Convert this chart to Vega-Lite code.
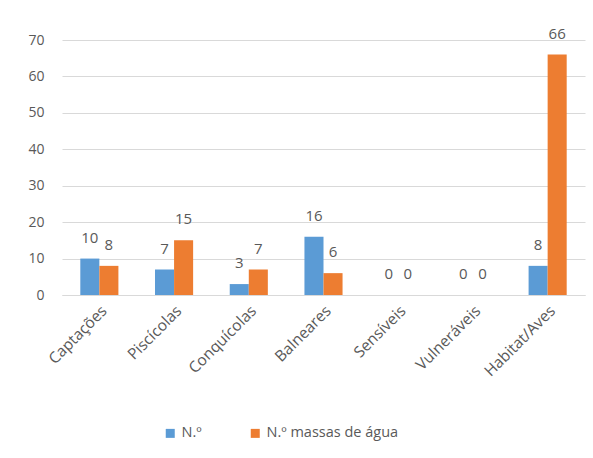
{
  "$schema": "https://vega.github.io/schema/vega-lite/v6.json",
  "autosize": {"type": "none"},
  "padding": {"left": 62, "top": 40, "right": 8, "bottom": 163},
  "width": 523,
  "height": 255,
  "background": "white",
  "config": {
    "font": "Open Sans",
    "view": {"stroke": null},
    "axis": {"labelColor": "#595959", "labelFont": "Open Sans"}
  },
  "data": {
    "values": [
      {"categoria": "Captações", "serie": "N.º", "valor": 10},
      {"categoria": "Captações", "serie": "N.º massas de água", "valor": 8},
      {"categoria": "Piscícolas", "serie": "N.º", "valor": 7},
      {"categoria": "Piscícolas", "serie": "N.º massas de água", "valor": 15},
      {"categoria": "Conquícolas", "serie": "N.º", "valor": 3},
      {"categoria": "Conquícolas", "serie": "N.º massas de água", "valor": 7},
      {"categoria": "Balneares", "serie": "N.º", "valor": 16},
      {"categoria": "Balneares", "serie": "N.º massas de água", "valor": 6},
      {"categoria": "Sensíveis", "serie": "N.º", "valor": 0},
      {"categoria": "Sensíveis", "serie": "N.º massas de água", "valor": 0},
      {"categoria": "Vulneráveis", "serie": "N.º", "valor": 0},
      {"categoria": "Vulneráveis", "serie": "N.º massas de água", "valor": 0},
      {"categoria": "Habitat/Aves", "serie": "N.º", "valor": 8},
      {"categoria": "Habitat/Aves", "serie": "N.º massas de água", "valor": 66}
    ]
  },
  "encoding": {
    "x": {
      "field": "categoria",
      "type": "nominal",
      "sort": null,
      "scale": {"paddingInner": 0.49, "paddingOuter": 0.245},
      "axis": {
        "title": null,
        "labelAngle": -45,
        "labelPadding": 8,
        "ticks": false,
        "domainColor": "#d9d9d9",
        "domainWidth": 1,
        "labelFontSize": 15.5
      }
    },
    "xOffset": {"field": "serie", "type": "nominal"},
    "y": {
      "field": "valor",
      "type": "quantitative",
      "scale": {"domain": [0, 70]},
      "axis": {
        "title": null,
        "values": [0, 10, 20, 30, 40, 50, 60, 70],
        "domain": false,
        "ticks": false,
        "labelPadding": 18,
        "gridColor": "#d9d9d9",
        "labelFontSize": 14
      }
    }
  },
  "layer": [
    {
      "mark": {"type": "bar"},
      "encoding": {
        "color": {
          "field": "serie",
          "type": "nominal",
          "scale": {"domain": ["N.º", "N.º massas de água"], "range": ["#5B9BD5", "#ED7D31"]},
          "legend": {
            "title": null,
            "orient": "none",
            "direction": "horizontal",
            "legendX": 101,
            "legendY": 386,
            "symbolType": "square",
            "symbolSize": 81,
            "symbolStrokeWidth": 0,
            "columnPadding": 46,
            "labelOffset": 4,
            "labelFontSize": 14.5,
            "labelColor": "#595959",
            "labelFont": "Open Sans"
          }
        }
      }
    },
    {
      "mark": {"type": "text", "baseline": "middle", "dy": -21, "fontSize": 15, "color": "#595959", "font": "Open Sans"},
      "encoding": {
        "text": {"field": "valor", "type": "quantitative"}
      }
    }
  ]
}
